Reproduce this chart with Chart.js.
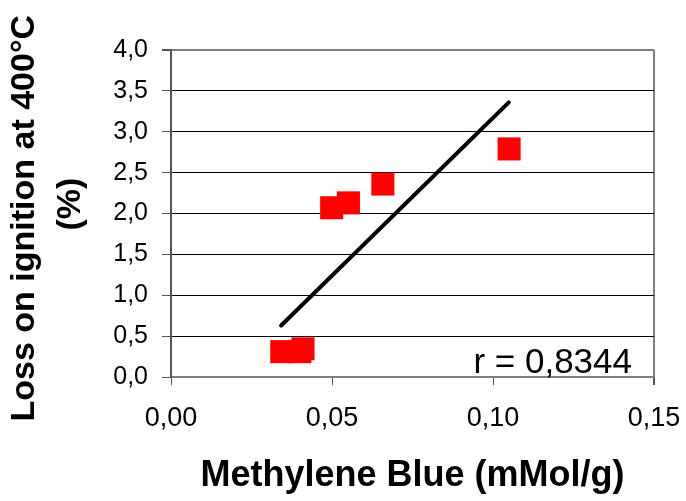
<!DOCTYPE html>
<html>
<head>
<meta charset="utf-8">
<script src="https://cdn.jsdelivr.net/npm/chart.js@4"></script>
<style>
  html, body { margin: 0; padding: 0; background: #fff; }
  #wrap { position: relative; width: 686px; height: 501px; }
</style>
</head>
<body>
<div id="wrap"><canvas id="chart"></canvas></div>
<script>
/* data */
const mbValues   = [0.0344, 0.0400, 0.0410, 0.0499, 0.0551, 0.0658, 0.1050];   // mMol/g
const loiValues  = [0.31,   0.31,   0.345,  2.07,   2.13,   2.36,   2.79];     // %
const trendX     = [0.0342, 0.1049];
const trendY     = [0.63,   3.36];
const rLabel     = 'r = 0,8344';
const xTitle     = 'Methylene Blue (mMol/g)';
// spaces nudge the two rotated lines apart a little, like the original
const yTitle     = ['Loss on ignition at 400°C ', '  (%)'];

const FONT = "'Liberation Sans', Arial, sans-serif";
const GRAY = '#808080';

const points = mbValues.map((x, i) => ({ x, y: loiValues[i] }));
const trend  = trendX.map((x, i) => ({ x, y: trendY[i] }));

/* r annotation, bottom right of plot */
const rText = {
  id: 'rText',
  afterDatasetsDraw(chart) {
    const { ctx, chartArea } = chart;
    ctx.save();
    ctx.font = `35px ${FONT}`;
    ctx.fillStyle = '#000';
    ctx.textAlign = 'right';
    ctx.textBaseline = 'alphabetic';
    ctx.fillText(rLabel, chartArea.right - 22, chartArea.bottom - 4);
    ctx.restore();
  }
};

new Chart(document.getElementById('chart'), {
  type: 'scatter',
  data: {
    datasets: [
      {
        type: 'line',
        data: trend,
        borderColor: '#000',
        borderWidth: 4,
        borderCapStyle: 'round',
        pointRadius: 0,
        fill: false
      },
      {
        data: points,
        pointStyle: 'rect',
        pointRadius: 16.3,
        pointBorderWidth: 0,
        backgroundColor: '#ff0000',
        borderColor: '#ff0000'
      }
    ]
  },
  options: {
    responsive: true,
    maintainAspectRatio: false,
    animation: false,
    layout: { padding: { left: 0, top: 50, right: 32, bottom: 0 } },
    plugins: { legend: { display: false }, tooltip: { enabled: false } },
    scales: {
      x: {
        type: 'linear',
        min: 0, max: 0.15,
        afterFit: s => { s.height = 124; s.paddingLeft = 0; s.paddingRight = 0; },
        ticks: {
          stepSize: 0.05,
          padding: 17,
          color: '#000',
          font: { family: FONT, size: 27 },
          callback: v => v.toFixed(2).replace('.', ',')
        },
        grid: {
          drawOnChartArea: true,
          color: c => (c.tick && Math.abs(c.tick.value - 0.15) < 1e-9) ? GRAY : 'rgba(0,0,0,0)',
          lineWidth: c => (c.tick && Math.abs(c.tick.value - 0.15) < 1e-9) ? 2 : 1,
          tickColor: '#555',
          tickLength: 8
        },
        border: { color: GRAY, width: 2 },
        title: {
          display: true,
          text: xTitle,
          color: '#000',
          font: { family: FONT, size: 36, weight: 'bold' },
          padding: { top: 0, bottom: 3 }
        }
      },
      y: {
        min: 0, max: 4,
        afterFit: s => { s.width = 171; s.paddingTop = 0; s.paddingBottom = 0; },
        ticks: {
          stepSize: 0.5,
          padding: 14,
          color: '#000',
          font: { family: FONT, size: 25 },
          callback: v => v.toFixed(1).replace('.', ',')
        },
        grid: {
          color: c => (c.tick && c.tick.value === 4) ? GRAY : '#000',
          lineWidth: c => (c.tick && c.tick.value === 4) ? 2 : 1,
          tickColor: '#555',
          tickLength: 9
        },
        border: { color: '#555', width: 2 },
        title: {
          display: true,
          text: yTitle,
          color: '#000',
          font: { family: FONT, size: 34, weight: 'bold', lineHeight: 1.35 },
          padding: { top: 2, bottom: 0 }
        }
      }
    }
  },
  plugins: [rText]
});
</script>
</body>
</html>
